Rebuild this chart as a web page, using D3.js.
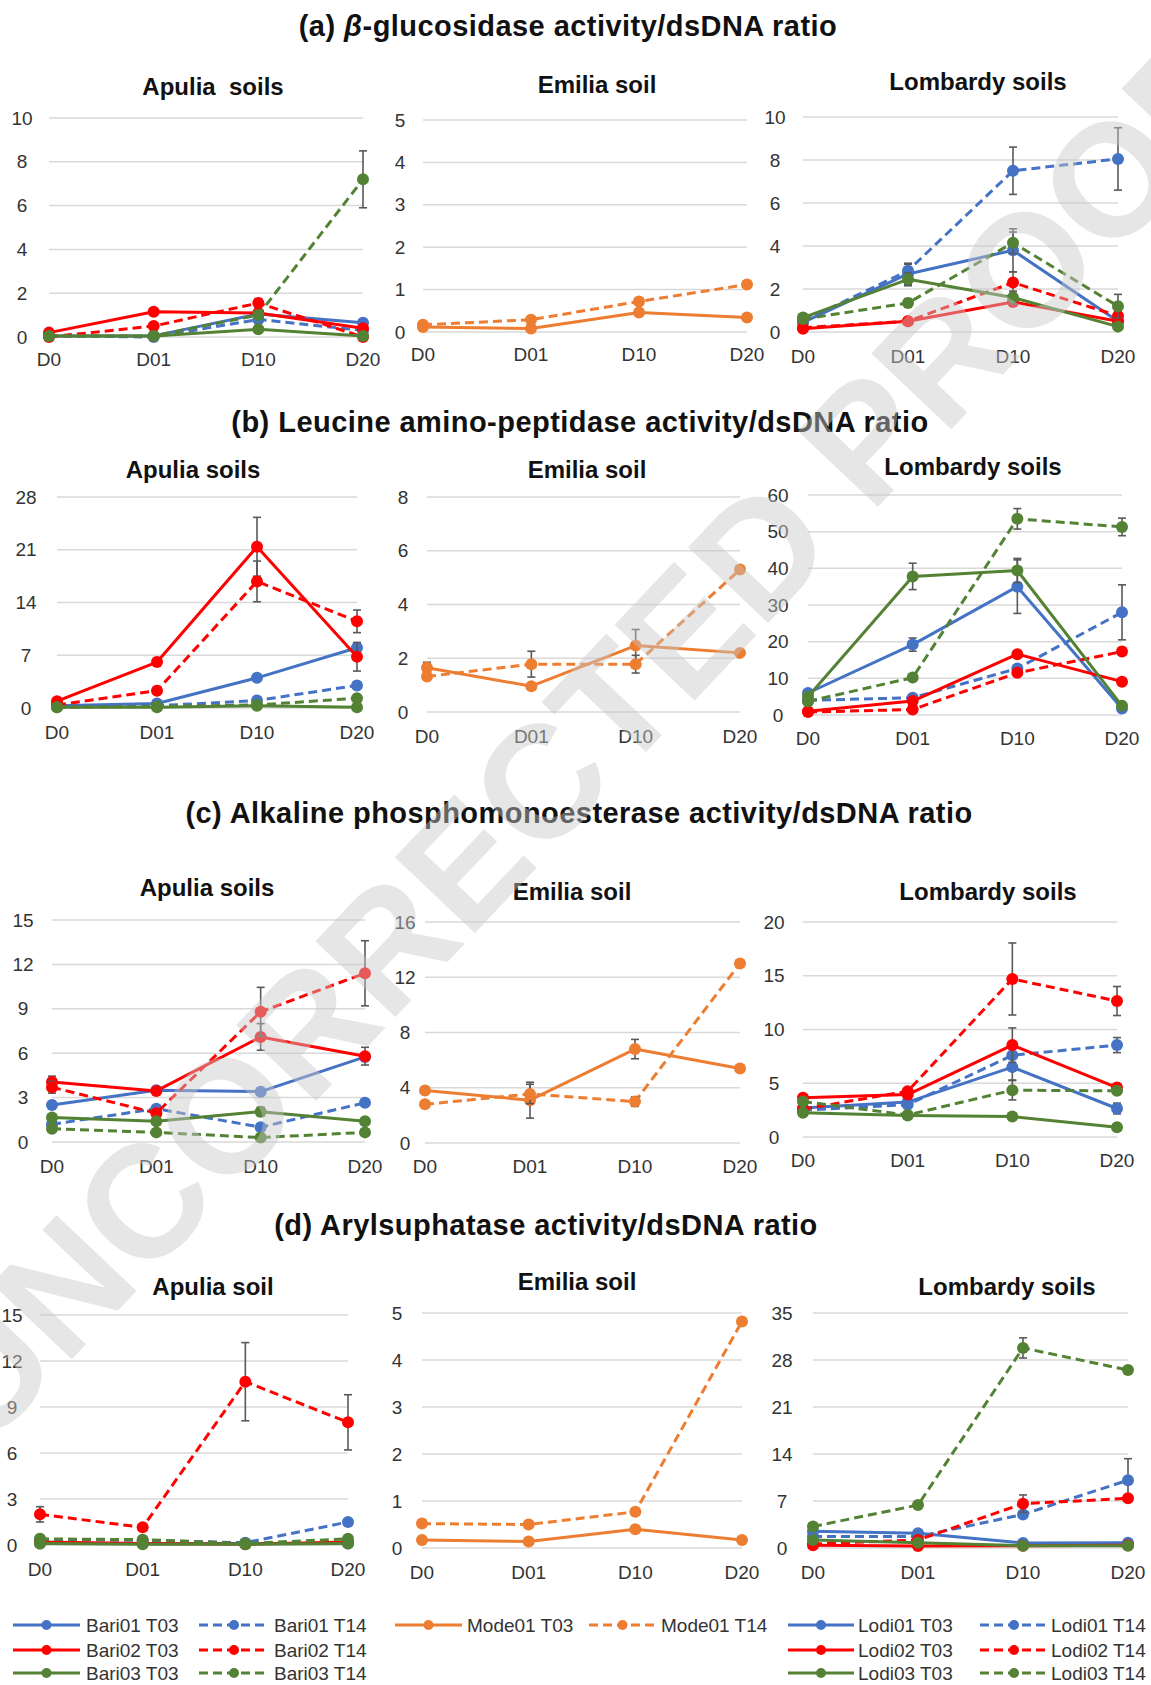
<!DOCTYPE html>
<html><head><meta charset="utf-8">
<script src="https://cdn.jsdelivr.net/npm/d3@7"></script>
<style>
body{margin:0;background:#fff;}
svg{display:block;font-family:"Liberation Sans",Arial,sans-serif;}
</style>
</head><body>
<svg id="chart" width="1151" height="1685"></svg>
<script>
// ---------- DATA ----------
const days = ["D0", "D01", "D10", "D20"];
const apuliaNames = ["Bari01 T03", "Bari01 T14", "Bari02 T03", "Bari02 T14", "Bari03 T03", "Bari03 T14"];
const emiliaNames = ["Mode01 T03", "Mode01 T14"];
const lombardyNames = ["Lodi01 T03", "Lodi01 T14", "Lodi02 T03", "Lodi02 T14", "Lodi03 T03", "Lodi03 T14"];

const sectionTitles = ["(a) ", "(b) Leucine amino-peptidase activity/dsDNA ratio",
  "(c) Alkaline phosphomonoesterase activity/dsDNA ratio", "(d) Arylsuphatase activity/dsDNA ratio"];

// (a) beta-glucosidase
const glucApulia = [[0.05,0.05,1.05,0.65],[0.05,0.0,0.8,0.3],[0.2,1.15,1.1,0.4],[0.0,0.5,1.55,0.0],[0.05,0.05,0.35,0.05],[0.05,0.05,1.0,7.2]];
const glucApuliaErr = [[0,0,0,0],[0,0,0,0],[0,0,0,0],[0,0,0.2,0],[0,0,0,0],[0,0,0,1.3]];
const glucEmilia = [[0.12,0.08,0.46,0.34],[0.17,0.29,0.72,1.12]];
const glucEmiliaErr = [[0.04,0.04,0.08,0.03],[0.04,0.07,0.08,0.08]];
const glucLombardy = [[0.45,2.7,3.8,0.5],[0.5,2.85,7.5,8.05],[0.15,0.5,1.4,0.5],[0.2,0.5,2.3,0.75],[0.67,2.45,1.6,0.25],[0.6,1.35,4.15,1.2]];
const glucLombardyErr = [[0,0.5,1.0,0],[0,0.3,1.1,1.45],[0,0,0.2,0],[0,0,0.5,0.2],[0,0.3,0.3,0],[0,0.2,0.5,0.55]];

// (b) leucine amino-peptidase
const lapApulia = [[0.3,0.6,4.0,8.0],[0.2,0.3,1.0,3.0],[0.9,6.1,21.4,6.8],[0.4,2.3,16.8,11.5],[0.1,0.1,0.3,0.1],[0.1,0.2,0.4,1.3]];
const lapApuliaErr = [[0,0,0.3,0.5],[0,0,0,0],[0.3,0.5,3.9,1.9],[0,0,2.7,1.5],[0,0,0,0],[0,0,0,0]];
const lapEmilia = [[1.65,0.96,2.47,2.2],[1.32,1.78,1.78,5.3]];
const lapEmiliaErr = [[0.2,0.1,0.6,0.05],[0.1,0.48,0.33,0.1]];
const lapLombardy = [[6.0,19.2,35.0,1.8],[4.0,4.7,12.7,28.0],[1.0,3.8,16.6,9.1],[0.8,1.5,11.5,17.3],[5.0,37.8,39.4,2.5],[3.7,10.2,53.5,51.3]];
const lapLombardyErr = [[0,1.8,7.3,0],[0,0,0,7.5],[0,0,0,0],[0,0,0,0],[0,3.6,3.3,0],[0,0.5,2.8,2.4]];

// (c) alkaline phosphomonoesterase
const alpApulia = [[2.5,3.5,3.4,5.75],[1.2,2.25,1.0,2.65],[4.05,3.45,7.1,5.8],[3.7,1.95,8.8,11.4],[1.65,1.4,2.05,1.4],[0.9,0.65,0.3,0.65]];
const alpApuliaErr = [[0,0,0,0],[0,0,0,0],[0.4,0,0.9,0.6],[0.4,0,1.65,2.2],[0,0,0.3,0],[0,0,0,0.2]];
const alpEmilia = [[3.8,3.1,6.8,5.4],[2.8,3.55,3.0,13.0]];
const alpEmiliaErr = [[0.2,1.3,0.7,0],[0,0.7,0.35,0]];
const alpLombardy = [[2.7,3.25,6.5,2.65],[2.5,3.0,7.6,8.55],[3.65,3.95,8.55,4.6],[2.6,4.25,14.7,12.65],[2.25,2.0,1.9,0.9],[3.3,2.05,4.35,4.3]];
const alpLombardyErr = [[0,0,1.2,0.5],[0,0,0,0.7],[0,0.4,1.6,0],[0,0,3.35,1.35],[0,0,0,0],[0,0,0.9,0]];

// (d) arylsulphatase
const arsApulia = [[0.1,0.1,0.1,0.1],[0.35,0.3,0.15,1.5],[0.2,0.1,0.05,0.2],[2.0,1.15,10.65,8.0],[0.1,0.05,0.05,0.1],[0.4,0.35,0.1,0.4]];
const arsApuliaErr = [[0,0,0,0],[0,0,0,0],[0,0,0,0],[0.5,0,2.55,1.8],[0,0,0,0],[0,0,0,0]];
const arsEmilia = [[0.17,0.14,0.4,0.17],[0.52,0.5,0.77,4.82]];
const arsEmiliaErr = [[0.02,0.02,0.03,0.02],[0.03,0.03,0.05,0.05]];
const arsLombardy = [[2.5,2.2,0.75,0.8],[1.7,1.7,5.0,10.1],[0.4,0.3,0.35,0.4],[0.6,1.2,6.6,7.4],[1.2,0.8,0.35,0.35],[3.2,6.4,29.8,26.5]];
const arsLombardyErr = [[0,0,0,0],[0,0,0,3.2],[0,0,0,0],[0,0,1.3,0],[0,0,0,0],[0,0.5,1.5,0.4]];

// tick values
const ticksA1 = [0,2,4,6,8,10], ticksA2 = [0,1,2,3,4,5], ticksA3 = [0,2,4,6,8,10];
const ticksB1 = [0,7,14,21,28], ticksB2 = [0,2,4,6,8], ticksB3 = [0,10,20,30,40,50,60];
const ticksC1 = [0,3,6,9,12,15], ticksC2 = [0,4,8,12,16], ticksC3 = [0,5,10,15,20];
const ticksD1 = [0,3,6,9,12,15], ticksD2 = [0,1,2,3,4,5], ticksD3 = [0,7,14,21,28,35];

// ---------- STYLE / LAYOUT ----------
const BLUE = "#4472C4", RED = "#FF0000", GREEN = "#548235", ORANGE = "#ED7D31";
const triStyle = [
  {c: BLUE, dash: false}, {c: BLUE, dash: true},
  {c: RED, dash: false}, {c: RED, dash: true},
  {c: GREEN, dash: false}, {c: GREEN, dash: true}];
const emStyle = [{c: ORANGE, dash: false}, {c: ORANGE, dash: true}];
const DASH = "9,5";

const panels = [
  {title:"Apulia  soils", tx:213, ty:95, x0:49, x1:363, yT:118, yB:337, ticks:ticksA1, lx:22, xly:359, names:apuliaNames, v:glucApulia, e:glucApuliaErr, st:triStyle},
  {title:"Emilia soil", tx:597, ty:93, x0:423, x1:747, yT:120, yB:332, ticks:ticksA2, lx:400, xly:354, names:emiliaNames, v:glucEmilia, e:glucEmiliaErr, st:emStyle},
  {title:"Lombardy soils", tx:978, ty:90, x0:803, x1:1118, yT:117, yB:332, ticks:ticksA3, lx:775, xly:356, names:lombardyNames, v:glucLombardy, e:glucLombardyErr, st:triStyle},
  {title:"Apulia soils", tx:193, ty:478, x0:57, x1:357, yT:497, yB:708, ticks:ticksB1, lx:26, xly:732, names:apuliaNames, v:lapApulia, e:lapApuliaErr, st:triStyle},
  {title:"Emilia soil", tx:587, ty:478, x0:427, x1:740, yT:497, yB:712, ticks:ticksB2, lx:403, xly:736, names:emiliaNames, v:lapEmilia, e:lapEmiliaErr, st:emStyle},
  {title:"Lombardy soils", tx:973, ty:475, x0:808, x1:1122, yT:495, yB:715, ticks:ticksB3, lx:778, xly:738, names:lombardyNames, v:lapLombardy, e:lapLombardyErr, st:triStyle},
  {title:"Apulia soils", tx:207, ty:896, x0:52, x1:365, yT:920, yB:1142, ticks:ticksC1, lx:23, xly:1166, names:apuliaNames, v:alpApulia, e:alpApuliaErr, st:triStyle},
  {title:"Emilia soil", tx:572, ty:900, x0:425, x1:740, yT:922, yB:1143, ticks:ticksC2, lx:405, xly:1166, names:emiliaNames, v:alpEmilia, e:alpEmiliaErr, st:emStyle},
  {title:"Lombardy soils", tx:988, ty:900, x0:803, x1:1117, yT:922, yB:1137, ticks:ticksC3, lx:774, xly:1160, names:lombardyNames, v:alpLombardy, e:alpLombardyErr, st:triStyle},
  {title:"Apulia soil", tx:213, ty:1295, x0:40, x1:348, yT:1315, yB:1545, ticks:ticksD1, lx:12, xly:1569, names:apuliaNames, v:arsApulia, e:arsApuliaErr, st:triStyle},
  {title:"Emilia soil", tx:577, ty:1290, x0:422, x1:742, yT:1313, yB:1548, ticks:ticksD2, lx:397, xly:1572, names:emiliaNames, v:arsEmilia, e:arsEmiliaErr, st:emStyle},
  {title:"Lombardy soils", tx:1007, ty:1295, x0:813, x1:1128, yT:1313, yB:1548, ticks:ticksD3, lx:782, xly:1572, names:lombardyNames, v:arsLombardy, e:arsLombardyErr, st:triStyle}
];

const svg = d3.select("#chart");
svg.append("rect").attr("width",1151).attr("height",1685).attr("fill","#fff");

// Section titles
const secPos = [{x:568, y:36}, {x:580, y:432}, {x:579, y:823}, {x:546, y:1235}];
secPos.forEach((p, i) => {
  const t = svg.append("text").attr("x", p.x).attr("y", p.y)
    .attr("text-anchor","middle").attr("font-size",29).attr("font-weight","bold")
    .attr("letter-spacing",0.45).attr("fill","#111");
  if (i === 0) {
    t.append("tspan").text("(a) ");
    t.append("tspan").attr("font-style","italic").text("\u03B2");
    t.append("tspan").text("-glucosidase activity/dsDNA ratio");
  } else {
    t.text(sectionTitles[i]);
  }
});

panels.forEach(p => {
  const g = svg.append("g");
  const x = d3.scalePoint().domain(days).range([p.x0, p.x1]);
  const yMax = p.ticks[p.ticks.length - 1];
  const y = d3.scaleLinear().domain([0, yMax]).range([p.yB, p.yT]);

  // gridlines
  g.selectAll("line.grid").data(p.ticks).join("line")
    .attr("x1", p.x0).attr("x2", p.x1)
    .attr("y1", d => y(d)).attr("y2", d => y(d))
    .attr("stroke", "#D9D9D9").attr("stroke-width", 1.5);

  // y labels
  g.selectAll("text.yl").data(p.ticks).join("text")
    .attr("x", p.lx).attr("y", d => y(d)).attr("dy","0.35em")
    .attr("text-anchor","middle").attr("font-size",19).attr("fill","#333")
    .text(d => d);

  // x labels
  g.selectAll("text.xl").data(days).join("text")
    .attr("x", d => x(d)).attr("y", p.xly).attr("dy","0.35em")
    .attr("text-anchor","middle").attr("font-size",19).attr("fill","#333")
    .text(d => d);

  // title
  g.append("text").attr("x", p.tx).attr("y", p.ty).attr("text-anchor","middle")
    .attr("font-size",24).attr("font-weight","bold").attr("fill","#111")
    .attr("xml:space","preserve").style("white-space","pre")
    .text(p.title);

  const line = d3.line().x((d, i) => x(days[i])).y(d => y(d));

  p.v.forEach((vals, si) => {
    const s = p.st[si];
    const sg = g.append("g");
    sg.append("path").datum(vals).attr("d", line)
      .attr("fill","none").attr("stroke", s.c).attr("stroke-width", 3)
      .attr("stroke-dasharray", s.dash ? DASH : null)
      .attr("stroke-linejoin","round");
    // error bars
    const errs = p.e[si];
    vals.forEach((v, i) => {
      const er = errs[i];
      if (!er) return;
      const cx = x(days[i]);
      const eg = sg.append("g").attr("stroke","#595959").attr("stroke-width",1.6);
      eg.append("line").attr("x1",cx).attr("x2",cx).attr("y1",y(v - er)).attr("y2",y(v + er));
      eg.append("line").attr("x1",cx-4).attr("x2",cx+4).attr("y1",y(v + er)).attr("y2",y(v + er));
      eg.append("line").attr("x1",cx-4).attr("x2",cx+4).attr("y1",y(v - er)).attr("y2",y(v - er));
    });
    sg.selectAll("circle").data(vals).join("circle")
      .attr("cx", (d, i) => x(days[i])).attr("cy", d => y(d))
      .attr("r", 6).attr("fill", s.c);
  });
});

// Legend
const legendCols = [
  {x1:13, x2:80, lx:86, names:[apuliaNames[0], apuliaNames[2], apuliaNames[4]], st:[triStyle[0], triStyle[2], triStyle[4]]},
  {x1:199, x2:269, lx:274, names:[apuliaNames[1], apuliaNames[3], apuliaNames[5]], st:[triStyle[1], triStyle[3], triStyle[5]]},
  {x1:395, x2:462, lx:467, names:[emiliaNames[0]], st:[emStyle[0]]},
  {x1:589, x2:656, lx:661, names:[emiliaNames[1]], st:[emStyle[1]]},
  {x1:788, x2:854, lx:858, names:[lombardyNames[0], lombardyNames[2], lombardyNames[4]], st:[triStyle[0], triStyle[2], triStyle[4]]},
  {x1:980, x2:1048, lx:1051, names:[lombardyNames[1], lombardyNames[3], lombardyNames[5]], st:[triStyle[1], triStyle[3], triStyle[5]]}
];
const legendRows = [1625, 1650, 1673];
const lg = svg.append("g");
legendCols.forEach(col => {
  col.names.forEach((n, r) => {
    const s = col.st[r], yy = legendRows[r];
    lg.append("line").attr("x1", col.x1).attr("x2", col.x2).attr("y1", yy).attr("y2", yy)
      .attr("stroke", s.c).attr("stroke-width", 3).attr("stroke-dasharray", s.dash ? DASH : null);
    lg.append("circle").attr("cx", (col.x1 + col.x2) / 2).attr("cy", yy).attr("r", 5).attr("fill", s.c);
    lg.append("text").attr("x", col.lx).attr("y", yy).attr("dy","0.35em")
      .attr("font-size", 19).attr("fill", "#333").text(n);
  });
});

// Watermark
svg.append("text").attr("transform","translate(-15,1451) rotate(-46.6)")
  .attr("font-size",160).attr("font-weight","bold").attr("fill","#c8c8c8").attr("opacity",0.45)
  .text("UNCORRECTED PROOF");
</script>
</body></html>
